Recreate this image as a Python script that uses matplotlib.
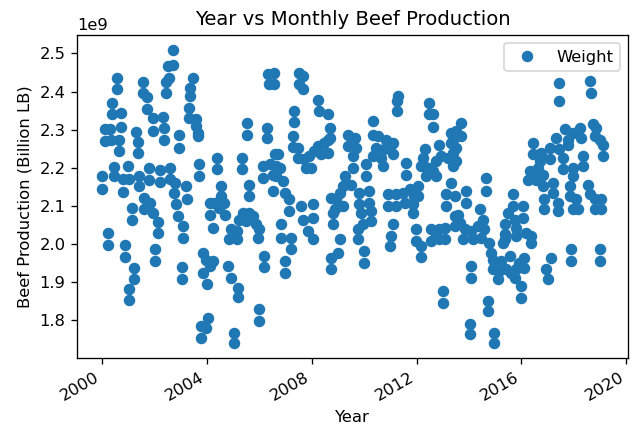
#!/usr/bin/env python3
"""Year vs Monthly Beef Production scatter (values read off the reference)."""
from datetime import datetime, timedelta

import matplotlib
matplotlib.use("Agg")
import matplotlib.pyplot as plt

# decimal year of each point, and production in billion lb
years_2000_2004 = [
    2000.56, 2000.56, 2001.55, 2001.55, 2001.70, 2000.38, 2000.38, 2000.73, 2001.70, 2001.93,
    2000.13, 2000.13, 2000.31, 2000.34, 2000.73, 2000.66, 2000.63, 2001.30, 2001.36, 2001.36,
    2000.47, 2000.47, 2000.98, 2000.00, 2000.00, 2000.79, 2000.79, 2001.02, 2001.42, 2001.42,
    2001.78, 2001.78, 2001.61, 2001.61, 2001.83, 2001.93, 2001.15, 2001.15, 2000.21, 2000.21,
    2000.89, 2000.89, 2001.21, 2001.21, 2001.04, 2001.04, 2001.93,
    2002.69, 2002.69, 2002.50, 2002.54, 2002.42, 2002.44, 2003.46, 2003.36, 2003.36, 2003.31,
    2003.31, 2003.59, 2003.59, 2003.65, 2003.65, 2002.31, 2002.38, 2002.38, 2002.95, 2002.95,
    2003.71, 2003.71, 2002.21, 2002.21, 2002.60, 2002.60, 2002.80, 2002.76, 2003.21, 2002.82,
    2003.23, 2002.89, 2003.08, 2003.08, 2002.12, 2002.12, 2002.03, 2002.03, 2003.04, 2003.04,
    2004.10, 2004.10, 2004.22, 2003.87, 2003.87, 2003.97, 2004.10, 2003.99, 2004.03, 2003.78,
    2003.78, 2003.97,
]
values_2000_2004 = [
    2.436, 2.406, 2.425, 2.397, 2.386, 2.369, 2.340, 2.344, 2.353, 2.331,
    2.301, 2.270, 2.302, 2.274, 2.308, 2.274, 2.244, 2.293, 2.267, 2.239,
    2.203, 2.178, 2.204, 2.178, 2.143, 2.171, 2.137, 2.171, 2.178, 2.152,
    2.200, 2.169, 2.121, 2.091, 2.108, 2.082, 2.095, 2.064, 2.028, 1.997,
    1.996, 1.966, 1.938, 1.909, 1.881, 1.852, 2.296,
    2.510, 2.471, 2.467, 2.436, 2.425, 2.397, 2.436, 2.410, 2.388, 2.357,
    2.331, 2.327, 2.309, 2.292, 2.283, 2.334, 2.305, 2.274, 2.287, 2.252,
    2.209, 2.178, 2.194, 2.162, 2.200, 2.171, 2.161, 2.134, 2.152, 2.104,
    2.119, 2.073, 2.047, 2.016, 2.057, 2.028, 1.986, 1.955, 1.940, 1.909,
    2.108, 2.075, 2.043, 1.977, 1.924, 1.959, 1.942, 1.894, 1.806, 1.784,
    1.754, 1.780,
]

years_2004_2009 = [
    2006.32, 2006.36, 2005.52, 2005.52, 2006.28, 2006.28, 2004.37, 2004.37, 2005.34, 2005.34,
    2006.13, 2006.13, 2006.58, 2006.39, 2006.51, 2006.51, 2004.54, 2004.54, 2004.67, 2004.29,
    2004.48, 2004.71, 2005.60, 2005.60, 2005.37, 2005.62, 2005.75, 2005.24, 2005.50, 2005.88,
    2006.00, 2005.94, 2004.92, 2005.14, 2004.86, 2005.14, 2006.19, 2006.19, 2004.22, 2004.79,
    2004.92, 2005.18, 2005.18, 2006.00, 2006.00, 2005.05, 2005.05,
    2006.55, 2006.55, 2007.50, 2007.50, 2007.66, 2007.68, 2008.23, 2008.29, 2008.61, 2007.34,
    2007.34, 2008.68, 2008.68, 2007.27, 2007.27, 2007.47, 2007.47, 2006.70, 2006.64, 2006.77,
    2006.64, 2006.89, 2006.96, 2007.15, 2007.15, 2007.60, 2008.04, 2007.66, 2008.04, 2007.85,
    2008.04, 2006.83, 2006.83, 2007.21, 2007.21, 2006.96, 2006.96, 2008.74, 2008.80, 2008.80,
    2008.74, 2008.74, 2008.23, 2008.48, 2008.61, 2008.10, 2008.36, 2008.61, 2007.91, 2007.72,
    2007.79, 2007.98,
]
values_2004_2009 = [
    2.445, 2.419, 2.318, 2.287, 2.305, 2.279, 2.226, 2.197, 2.226, 2.197,
    2.204, 2.174, 2.235, 2.209, 2.182, 2.139, 2.152, 2.126, 2.108, 2.108,
    2.095, 2.077, 2.156, 2.127, 2.082, 2.082, 2.073, 2.064, 2.060, 2.051,
    2.038, 2.016, 2.038, 2.034, 2.012, 2.012, 1.968, 1.939, 1.955, 1.942,
    1.911, 1.885, 1.861, 1.828, 1.797, 1.767, 1.739,
    2.449, 2.419, 2.449, 2.419, 2.440, 2.406, 2.379, 2.349, 2.340, 2.349,
    2.320, 2.305, 2.279, 2.283, 2.255, 2.252, 2.226, 2.235, 2.204, 2.200,
    2.178, 2.165, 2.134, 2.117, 2.086, 2.099, 2.104, 2.064, 2.069, 2.034,
    2.012, 2.051, 2.016, 2.016, 1.987, 1.955, 1.924, 2.121, 2.082, 2.051,
    1.964, 1.933, 2.257, 2.266, 2.274, 2.244, 2.235, 2.239, 2.230, 2.222,
    2.200, 2.200,
]

years_2009_2014 = [
    2010.33, 2010.33, 2009.37, 2009.37, 2009.63, 2009.69, 2009.56, 2010.52, 2010.84, 2011.03,
    2010.46, 2010.77, 2010.33, 2010.65, 2010.71, 2010.08, 2010.08, 2009.56, 2009.25, 2009.50,
    2009.18, 2009.06, 2008.93, 2009.18, 2008.87, 2009.06, 2008.99, 2009.82, 2009.82, 2010.20,
    2010.20, 2009.89, 2010.27, 2009.95, 2010.27, 2009.76, 2009.76, 2010.01, 2010.01, 2010.90,
    2010.90, 2011.09, 2011.03, 2010.97,
    2011.30, 2011.25, 2011.25, 2012.47, 2012.47, 2012.62, 2012.62, 2011.09, 2011.09, 2011.60,
    2011.60, 2012.34, 2012.24, 2012.30, 2012.18, 2012.87, 2012.94, 2012.75, 2012.62, 2012.75,
    2012.37, 2012.49, 2013.32, 2013.32, 2013.19, 2013.32, 2013.13, 2013.13, 2013.45, 2013.45,
    2013.45, 2011.22, 2011.47, 2011.73, 2012.05, 2011.92, 2011.54, 2011.22, 2011.85, 2012.05,
    2011.85, 2011.98, 2011.98, 2012.18, 2012.18, 2012.56, 2012.56, 2012.75, 2012.87, 2012.87,
    2013.07, 2013.07, 2013.00, 2013.00,
]
values_2009_2014 = [
    2.322, 2.287, 2.287, 2.257, 2.279, 2.253, 2.230, 2.283, 2.274, 2.261,
    2.252, 2.248, 2.230, 2.226, 2.204, 2.209, 2.178, 2.200, 2.178, 2.156,
    2.152, 2.134, 2.117, 2.099, 2.091, 2.012, 1.977, 2.134, 2.104, 2.139,
    2.108, 2.082, 2.086, 2.051, 2.060, 2.038, 2.012, 1.981, 1.951, 2.130,
    2.099, 2.051, 2.021, 1.995,
    2.388, 2.375, 2.349, 2.371, 2.340, 2.340, 2.308, 2.266, 2.235, 2.213,
    2.182, 2.248, 2.226, 2.204, 2.204, 2.261, 2.230, 2.217, 2.191, 2.178,
    2.178, 2.200, 2.292, 2.266, 2.226, 2.161, 2.130, 2.099, 2.126, 2.073,
    2.047, 2.130, 2.134, 2.143, 2.152, 2.126, 2.108, 2.099, 2.104, 2.126,
    2.082, 2.038, 2.008, 1.994, 1.965, 2.038, 2.008, 2.021, 2.038, 2.012,
    2.043, 2.012, 1.876, 1.846,
]

years_2013_2019 = [
    2013.70, 2013.70, 2013.51, 2013.51, 2013.51, 2013.38, 2013.38, 2013.38, 2014.66, 2014.66,
    2013.89, 2013.89, 2015.48, 2015.36, 2015.36, 2015.36, 2013.57, 2013.64, 2013.83, 2014.08,
    2013.76, 2014.15, 2014.40, 2014.53, 2014.34, 2014.59, 2014.47, 2014.78, 2014.85, 2014.91,
    2014.91, 2015.16, 2015.10, 2015.42, 2015.23, 2015.55, 2015.29, 2014.08, 2014.08, 2014.72,
    2014.72, 2014.02, 2014.02, 2014.97, 2014.97,
    2017.45, 2017.45, 2017.65, 2017.33, 2017.77, 2017.07, 2017.45, 2017.77, 2016.43, 2016.43,
    2016.76, 2016.69, 2017.07, 2016.63, 2016.31, 2016.50, 2016.82, 2016.24, 2016.56, 2016.82,
    2017.20, 2017.20, 2017.58, 2017.58, 2017.96, 2017.96, 2017.84, 2017.84, 2017.39, 2017.39,
    2016.88, 2016.88, 2017.96, 2015.67, 2015.67, 2016.05, 2016.05, 2015.74, 2015.80, 2015.80,
    2016.18, 2016.37, 2016.37, 2016.11, 2016.11, 2015.92, 2015.80, 2015.61, 2015.74, 2015.99,
    2015.99, 2017.14, 2016.95, 2017.01, 2017.90, 2017.90,
    2018.60, 2018.66, 2018.22, 2018.28, 2017.96, 2018.73, 2018.86, 2018.79, 2018.98, 2019.11,
    2019.11, 2018.34, 2018.34, 2018.53, 2018.60, 2018.79, 2018.09, 2018.15, 2018.79, 2019.05,
    2019.05, 2018.98, 2018.98,
]
values_2013_2019 = [
    2.318, 2.283, 2.296, 2.252, 2.217, 2.274, 2.239, 2.204, 2.174, 2.139,
    2.139, 2.108, 2.082, 2.051, 2.025, 2.012, 2.077, 2.056, 2.038, 2.034,
    2.012, 2.012, 2.091, 2.064, 2.047, 2.038, 2.016, 2.003, 1.977, 1.959,
    1.933, 1.929, 1.907, 1.933, 1.955, 1.968, 2.003, 1.942, 1.911, 1.850,
    1.824, 1.789, 1.763, 1.767, 1.741,
    2.423, 2.375, 2.301, 2.279, 2.274, 2.252, 2.248, 2.261, 2.266, 2.235,
    2.239, 2.217, 2.222, 2.200, 2.191, 2.187, 2.182, 2.169, 2.169, 2.152,
    2.161, 2.134, 2.226, 2.196, 2.200, 2.178, 2.152, 2.126, 2.108, 2.086,
    2.117, 2.091, 2.091, 2.130, 2.099, 2.099, 2.069, 2.064, 2.043, 2.021,
    2.029, 2.021, 2.003, 1.964, 1.938, 1.951, 1.933, 1.924, 1.911, 1.889,
    1.859, 1.964, 1.933, 1.907, 1.986, 1.955,
    2.427, 2.397, 2.305, 2.279, 2.292, 2.314, 2.305, 2.283, 2.274, 2.261,
    2.232, 2.230, 2.204, 2.156, 2.130, 2.117, 2.117, 2.091, 2.091, 2.117,
    2.091, 1.986, 1.955,
]


def to_date(yr: float) -> datetime:
    y = int(yr)
    return datetime(y, 1, 1) + timedelta(days=(yr - y) * 365.25)


years = years_2000_2004 + years_2004_2009 + years_2009_2014 + years_2013_2019
values = values_2000_2004 + values_2004_2009 + values_2009_2014 + values_2013_2019
dates = [to_date(y) for y in years]
weight = [v * 1e9 for v in values]

DPI = 118
W, H = 636, 428
fig, ax = plt.subplots(figsize=(W / DPI, H / DPI), dpi=DPI)
ax.plot(dates, weight, "o", color="#1f77b4", label="Weight")
ax.set_title("Year vs Monthly Beef Production")
ax.set_xlabel("Year")
ax.set_ylabel("Beef Production (Billion LB)")
ax.legend(loc="upper right")
fig.autofmt_xdate()
fig.subplots_adjust(left=77 / W, right=628 / W, top=1 - 35 / H, bottom=1 - 358 / H)
fig.savefig("out.png", dpi=DPI)
